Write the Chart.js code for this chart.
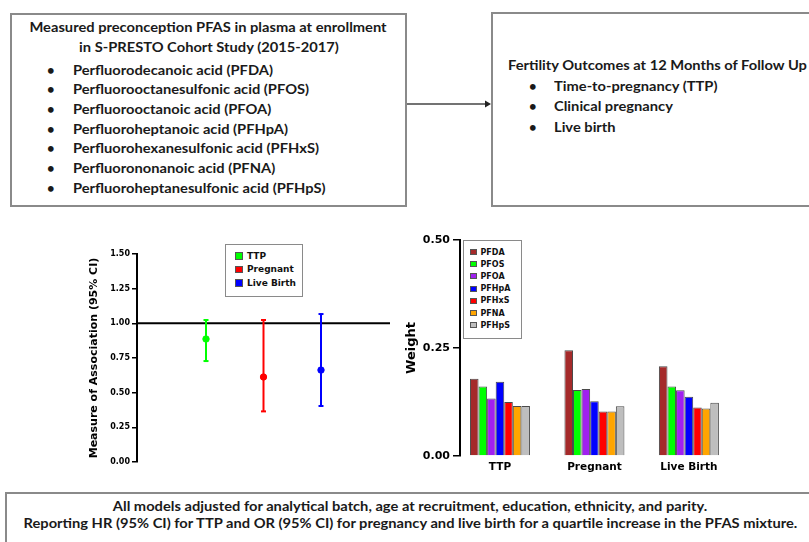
<!DOCTYPE html>
<html>
<head>
<meta charset="utf-8">
<script src="https://cdn.jsdelivr.net/npm/chart.js@4.4.1/dist/chart.umd.min.js"></script>
<style>
  body { margin: 0; width: 809px; height: 542px; overflow: hidden; position: relative; background: #fff; }
  .box { position: absolute; box-sizing: border-box; border: 2px solid #8a8a8a; font-family: Lato, sans-serif; font-weight: 700; font-size: 13px; color: #1a1a1a; }
  /* the source text is a wide, stretched Calibri */
  .sx { display: inline-block; transform: scaleX(1.13); transform-origin: left center; white-space: nowrap; }
  .mid .sx { transform-origin: center center; }
  .box ul { list-style: none; margin: 0; padding: 0; }
  .box li { position: relative; }
  .box li::before { content: "\2022"; position: absolute; }
  #pfasBox .head { text-align: center; line-height: 19.5px; padding-top: 3px; }
  #pfasBox ul { margin-top: 3.5px; }
  #pfasBox li { line-height: 19.7px; padding-left: 61px; }
  #pfasBox li::before { left: 35px; }
  #outcomeBox { padding: 41px 0 0 15px; line-height: 20.5px; }
  #outcomeBox li { padding-left: 46px; }
  #outcomeBox li::before { left: 21px; }
  #noteBox { text-align: center; line-height: 17px; padding-top: 3.5px; }
  .wrap { position: absolute; }
  .legend { position: absolute; box-sizing: border-box; border: 1.5px solid #8a8a8a; background: #fff;
            font-family: "DejaVu Sans", sans-serif; font-weight: bold; color: #111; }
  .legend .row { display: flex; align-items: center; white-space: nowrap; }
  .legend .sw { display: inline-block; box-sizing: border-box; border: 1px solid #555; }
</style>
</head>
<body>

<div class="box" id="pfasBox" style="left:10px;top:13px;width:397px;height:194px">
  <div class="head mid"><span class="sx">Measured preconception PFAS in plasma at enrollment</span><br><span class="sx">in S-PRESTO Cohort Study (2015-2017)</span></div>
  <ul>
    <li><span class="sx">Perfluorodecanoic acid (PFDA)</span></li>
    <li><span class="sx">Perfluorooctanesulfonic acid (PFOS)</span></li>
    <li><span class="sx">Perfluorooctanoic acid (PFOA)</span></li>
    <li><span class="sx">Perfluoroheptanoic acid (PFHpA)</span></li>
    <li><span class="sx">Perfluorohexanesulfonic acid (PFHxS)</span></li>
    <li><span class="sx">Perfluorononanoic acid (PFNA)</span></li>
    <li><span class="sx">Perfluoroheptanesulfonic acid (PFHpS)</span></li>
  </ul>
</div>

<svg style="position:absolute;left:407px;top:99px" width="86" height="10">
  <line x1="0" y1="5" x2="80" y2="5" stroke="#444" stroke-width="1.5"/>
  <polygon points="78,1.5 84,5 78,8.5" fill="#222"/>
</svg>

<div class="box" id="outcomeBox" style="left:491px;top:12px;width:340px;height:195px">
  <div><span class="sx">Fertility Outcomes at 12 Months of Follow Up</span></div>
  <ul>
    <li><span class="sx">Time-to-pregnancy (TTP)</span></li>
    <li><span class="sx">Clinical pregnancy</span></li>
    <li><span class="sx">Live birth</span></li>
  </ul>
</div>

<div class="wrap" style="left:80px;top:235px;width:325px;height:240px"><canvas id="assocChart"></canvas></div>
<div class="legend" id="assocLegend" style="left:225px;top:244px;width:78px;height:53px;padding:4px 0 0 8.5px;font-size:9px"></div>

<div class="wrap" style="left:400px;top:228px;width:409px;height:250px"><canvas id="weightChart"></canvas></div>
<div class="legend" id="weightLegend" style="left:463px;top:240px;width:59px;height:99px;padding:5px 0 0 5.5px;font-size:8px"></div>

<div class="box mid" id="noteBox" style="left:5px;top:492px;width:810px;height:70px">
  <span class="sx">All models adjusted for analytical batch, age at recruitment, education, ethnicity, and parity.</span><br>
  <span class="sx">Reporting HR (95% CI) for TTP and OR (95% CI) for pregnancy and live birth for a quartile increase in the PFAS mixture.</span>
</div>

<script>
// outcomes (shared by both panels)
const outcomes = ["TTP", "Pregnant", "Live Birth"];
const outcomeColors = ["#00ff00", "#ff0000", "#0000ff"];

// left panel: estimate and 95% CI
const estimate = [0.887, 0.613, 0.663];
const ciLow = [0.728, 0.365, 0.404];
const ciHigh = [1.024, 1.024, 1.067];
const refValue = 1.0;
const assocTicks = { min: 0, max: 1.5, step: 0.25 };

// right panel: mixture weights per PFAS, one value per outcome
const pfasNames = ["PFDA", "PFOS", "PFOA", "PFHpA", "PFHxS", "PFNA", "PFHpS"];
const pfasColors = ["#a52a2a", "#00ff00", "#a020f0", "#0000ff", "#ff0000", "#ffa500", "#bebebe"];
const wPFDA = [0.179, 0.245, 0.208];
const wPFOS = [0.161, 0.153, 0.161];
const wPFOA = [0.133, 0.155, 0.152];
const wPFHpA = [0.172, 0.127, 0.137];
const wPFHxS = [0.125, 0.103, 0.112];
const wPFNA = [0.116, 0.103, 0.110];
const wPFHpS = [0.116, 0.115, 0.123];
const weights = [wPFDA, wPFOS, wPFOA, wPFHpA, wPFHxS, wPFNA, wPFHpS];
const weightTicks = { min: 0, max: 0.5, step: 0.25 };

Chart.defaults.font.family = "'DejaVu Sans', sans-serif";
Chart.defaults.font.weight = "bold";
Chart.defaults.color = "#000";

// legends drawn as html boxes
function buildLegend(el, names, colors, rowH, sw) {
  names.forEach((n, i) => {
    const row = document.createElement("div");
    row.className = "row";
    row.style.height = rowH + "px";
    const s = document.createElement("span");
    s.className = "sw";
    s.style.width = sw + "px";
    s.style.height = sw - 1 + "px";
    s.style.marginRight = "4px";
    s.style.background = colors[i];
    row.append(s, document.createTextNode(n));
    el.appendChild(row);
  });
}
buildLegend(document.getElementById("assocLegend"), outcomes, outcomeColors, 13.5, 8.5);
buildLegend(document.getElementById("weightLegend"), pfasNames, pfasColors, 12.2, 7);

// horizontal reference line at 1.0
const refLine = {
  id: "refLine",
  beforeDatasetsDraw(chart) {
    const { ctx, chartArea, scales } = chart;
    const y = scales.y.getPixelForValue(refValue);
    ctx.save();
    ctx.strokeStyle = "#000";
    ctx.lineWidth = 2;
    ctx.beginPath();
    ctx.moveTo(chartArea.left, y);
    ctx.lineTo(chartArea.right, y);
    ctx.stroke();
    ctx.restore();
  },
};

const assocSets = [];
outcomes.forEach((o, i) => {
  // CI whisker with small caps
  assocSets.push({
    data: [{ x: i + 1, y: ciLow[i] }, { x: i + 1, y: ciHigh[i] }],
    showLine: true,
    borderColor: outcomeColors[i],
    borderWidth: 2,
    pointStyle: "line",
    pointRadius: 2.5,
    pointBorderWidth: 2,
    pointBorderColor: outcomeColors[i],
  });
  assocSets.push({
    data: [{ x: i + 1, y: estimate[i] }],
    pointRadius: 3.2,
    backgroundColor: outcomeColors[i],
    borderColor: outcomeColors[i],
  });
});

new Chart(document.getElementById("assocChart"), {
  type: "scatter",
  data: { datasets: assocSets },
  options: {
    animation: false,
    responsive: true,
    maintainAspectRatio: false,
    layout: { padding: { top: 19, right: 15, bottom: 13, left: 0 } },
    plugins: { legend: { display: false }, tooltip: { enabled: false } },
    scales: {
      x: { type: "linear", min: -0.2, max: 4.2, display: false },
      y: {
        min: assocTicks.min,
        max: assocTicks.max,
        afterFit: (s) => { s.width = 57; },
        ticks: { stepSize: assocTicks.step, callback: (v) => v.toFixed(2), font: { size: 8 }, padding: 2 },
        grid: { drawOnChartArea: false, tickLength: 5, color: "#000", lineWidth: 1.5 },
        border: { color: "#000", width: 2 },
        title: { display: true, text: "Measure of Association (95% CI)", font: { size: 11 }, padding: { top: 8, bottom: 0 } },
      },
    },
  },
  plugins: [refLine],
});

new Chart(document.getElementById("weightChart"), {
  type: "bar",
  data: {
    datasets: pfasNames.map((n, k) => ({
      label: n,
      data: weights[k].map((w, i) => ({ x: i + 1, y: w })),
      backgroundColor: pfasColors[k],
      borderColor: "#4a4a4a",
      borderWidth: 1,
      categoryPercentage: 0.635,
      barPercentage: 1,
    })),
  },
  options: {
    animation: false,
    responsive: true,
    maintainAspectRatio: false,
    layout: { padding: { top: 12, right: 19, bottom: 0, left: 0 } },
    plugins: { legend: { display: false }, tooltip: { enabled: false } },
    scales: {
      x: {
        type: "linear",
        min: 0.577,
        max: 4.07,
        offset: false,
        afterFit: (s) => { s.height = 22; },
        afterBuildTicks: (s) => { s.ticks = outcomes.map((o, i) => ({ value: i + 1 })); },
        ticks: { callback: (v) => outcomes[v - 1], font: { size: 10.5 }, padding: 5, maxRotation: 0, autoSkip: false },
        grid: { display: false, drawTicks: false },
        border: { display: false },
      },
      y: {
        min: weightTicks.min,
        max: weightTicks.max,
        afterFit: (s) => { s.width = 60; },
        ticks: { stepSize: weightTicks.step, callback: (v) => v.toFixed(2), font: { size: 11 }, padding: 3 },
        grid: { drawOnChartArea: false, tickLength: 7, color: "#000", lineWidth: 1.5 },
        border: { color: "#000", width: 2 },
        title: { display: true, text: "Weight", font: { size: 13 }, padding: { top: 4, bottom: 0 } },
      },
    },
  },
});
</script>
</body>
</html>
